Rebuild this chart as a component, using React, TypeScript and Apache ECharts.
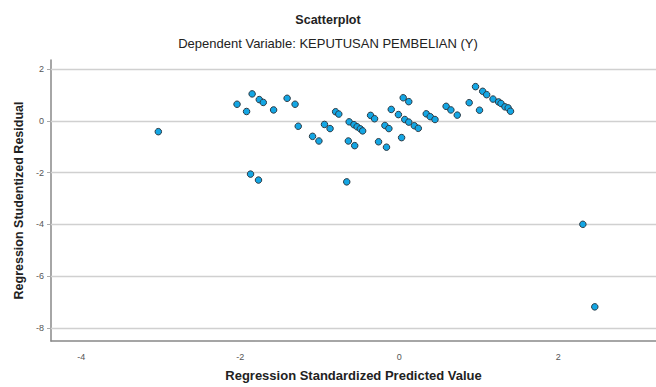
import React, { useEffect, useRef } from "react";
import * as echarts from "echarts";

const predicted: number[] = [
  -3.03, -2.04, -1.92, -1.85, -1.76, -1.71, -1.58, -1.41, -1.31, -1.27,
  -1.09, -1.01, -0.94, -0.87, -0.8, -0.76, -0.63, -0.64, -1.87, -1.77,
  -0.66, -0.57, -0.53, -0.49, -0.46, -0.56, -0.36, -0.31, -0.18, -0.13,
  -0.26, -0.16, -0.1, -0.01, 0.05, 0.12, 0.07, 0.12, 0.19, 0.24,
  0.03, 0.34, 0.39, 0.45, 0.59, 0.65, 0.73, 0.88, 0.96, 1.01,
  1.05, 1.1, 1.18, 1.25, 1.28, 1.33, 1.37, 1.4, 2.31, 2.46,
];
const residual: number[] = [
  -0.42, 0.64, 0.36, 1.04, 0.82, 0.71, 0.42, 0.87, 0.64, -0.21,
  -0.6, -0.78, -0.14, -0.3, 0.35, 0.26, -0.04, -0.78, -2.06, -2.29,
  -2.36, -0.15, -0.23, -0.31, -0.39, -0.96, 0.21, 0.08, -0.18, -0.3,
  -0.81, -1.02, 0.44, 0.24, 0.89, 0.74, 0.05, -0.05, -0.19, -0.29,
  -0.65, 0.27, 0.16, 0.05, 0.56, 0.42, 0.22, 0.7, 1.32, 0.41,
  1.14, 1.01, 0.84, 0.73, 0.67, 0.54, 0.5, 0.37, -4.0, -7.19,
];
const xTicks: number[] = [-4, -2, 0, 2];
const yTicks: number[] = [-8, -6, -4, -2, 0, 2];

export default function App() {
  const ref = useRef<HTMLDivElement>(null);
  useEffect(() => {
    if (!ref.current) return;
    const chart = echarts.init(ref.current, undefined, { renderer: "svg" });
    const font = "'Liberation Sans', Arial, sans-serif";
    chart.setOption({
      animation: false,
      backgroundColor: "#ffffff",
      title: [
        {
          text: "Scatterplot",
          left: "center",
          top: 8,
          textStyle: { fontFamily: font, fontSize: 12.5, fontWeight: "bold", color: "#222" },
        },
        {
          text: "Dependent Variable: KEPUTUSAN PEMBELIAN (Y)",
          left: "center",
          top: 32,
          textStyle: { fontFamily: font, fontSize: 13, fontWeight: "normal", color: "#222" },
        },
      ],
      grid: { left: 51, right: 0, top: 60, bottom: 39, containLabel: false },
      xAxis: {
        type: "value",
        min: -4.38,
        max: 3.23,
        name: "Regression Standardized Predicted Value",
        nameLocation: "middle",
        nameGap: 28,
        nameTextStyle: { fontFamily: font, fontSize: 13, fontWeight: "bold", color: "#222" },
        axisLine: { show: true, onZero: false, lineStyle: { color: "#888", width: 1.5 } },
        axisTick: { show: false },
        splitLine: { show: false },
        axisLabel: {
          customValues: xTicks,
          fontFamily: font,
          fontSize: 9,
          color: "#555",
          margin: 11,
        },
      },
      yAxis: {
        type: "value",
        min: -8.51,
        max: 2.35,
        name: "Regression Studentized Residual",
        nameLocation: "middle",
        nameGap: 24,
        nameTextStyle: { fontFamily: font, fontSize: 12.5, fontWeight: "bold", color: "#222" },
        axisLine: { show: true, onZero: false, lineStyle: { color: "#888", width: 1.5 } },
        axisTick: { show: true, customValues: yTicks, length: 4, lineStyle: { color: "#aaa" } },
        splitLine: { show: false },
        axisLabel: {
          customValues: yTicks,
          fontFamily: font,
          fontSize: 9,
          color: "#555",
          margin: 7,
        },
      },
      series: [
        {
          type: "scatter",
          data: predicted.map((x, i) => [x, residual[i]]),
          symbol: "circle",
          symbolSize: 6.5,
          itemStyle: { color: "#13a6e4", borderColor: "#2b3a44", borderWidth: 1, opacity: 1 },
          z: 5,
          markLine: {
            silent: true,
            symbol: "none",
            label: { show: false },
            lineStyle: { color: "#d0d0d0", type: "solid", width: 1.3 },
            data: yTicks.map((v) => ({ yAxis: v })),
            z: 1,
          },
        },
      ],
    });
    return () => chart.dispose();
  }, []);
  return (
    <div
      ref={ref}
      style={{ position: "fixed", left: 0, top: 0, width: 656, height: 387 }}
    />
  );
}
